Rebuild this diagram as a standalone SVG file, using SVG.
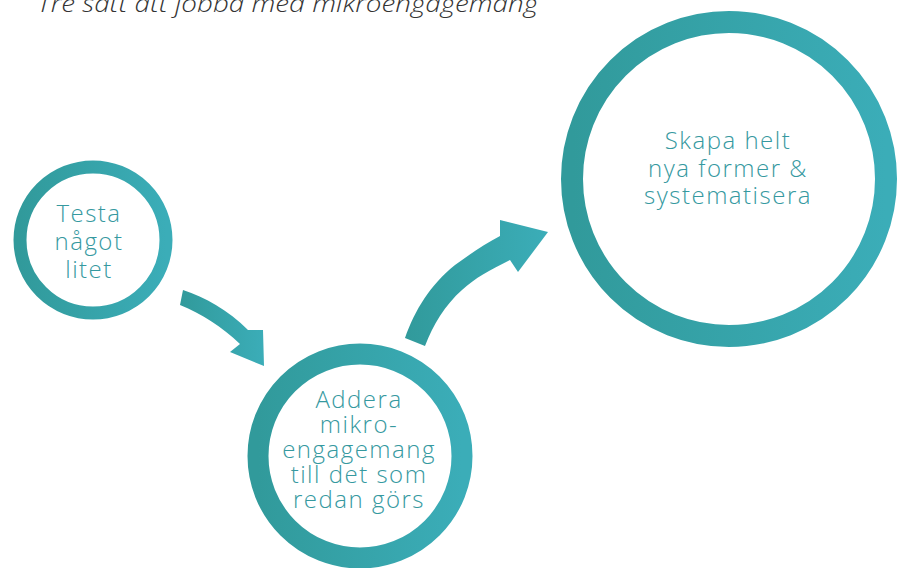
<svg xmlns="http://www.w3.org/2000/svg" width="905" height="568" viewBox="0 0 905 568">
<defs>
<linearGradient id="g" x1="0" y1="0" x2="1" y2="0">
<stop offset="0" stop-color="#319a9b"/>
<stop offset="1" stop-color="#3badb8"/>
</linearGradient>
<style>
.ring{fill:none;stroke:url(#g)}
.lbl{font-family:"Open Sans","Liberation Sans",sans-serif;font-weight:300;font-size:24px;letter-spacing:1.5px;fill:#36999f;text-anchor:middle}
.title{font-family:"Open Sans","Liberation Sans",sans-serif;font-weight:300;font-style:italic;font-size:23px;fill:#333}
.arrow{fill:url(#g)}
</style>
</defs>
<rect width="905" height="568" fill="#fff"/>
<text class="title" x="37" y="12" textLength="501" lengthAdjust="spacingAndGlyphs">Tre sätt att jobba med mikroengagemang</text>
<g id="connectors">
<path class="arrow" d="M183,290 C205,297 228,310 248,330 L263,330 L264,366 L230,352 L240,344 C222,327 202,314 180,305 Z"/>
<path class="arrow" d="M405,338 C415,310 430,285 455,265 C470,254 485,244 500,236 L500,220 L548,232 L518,272 L510,260 C490,270 475,278 462,290 C445,305 433,325 425,346 Z"/>
</g>
<g id="node1">
<circle class="ring" cx="93" cy="240" r="73" stroke-width="13"/>
<text class="lbl" x="89" y="222">Testa</text>
<text class="lbl" x="89" y="250">något</text>
<text class="lbl" x="89" y="278">litet</text>
</g>
<g id="node2">
<circle class="ring" cx="360" cy="456" r="102" stroke-width="21"/>
<text class="lbl" x="359" y="408">Addera</text>
<text class="lbl" x="359" y="433">mikro-</text>
<text class="lbl" x="359" y="458">engagemang</text>
<text class="lbl" x="359" y="483">till det som</text>
<text class="lbl" x="359" y="508">redan görs</text>
</g>
<g id="node3">
<circle class="ring" cx="729" cy="179" r="157" stroke-width="22"/>
<text class="lbl" x="728" y="149">Skapa helt</text>
<text class="lbl" x="728" y="177">nya former &amp;</text>
<text class="lbl" x="728" y="204">systematisera</text>
</g>
</svg>
